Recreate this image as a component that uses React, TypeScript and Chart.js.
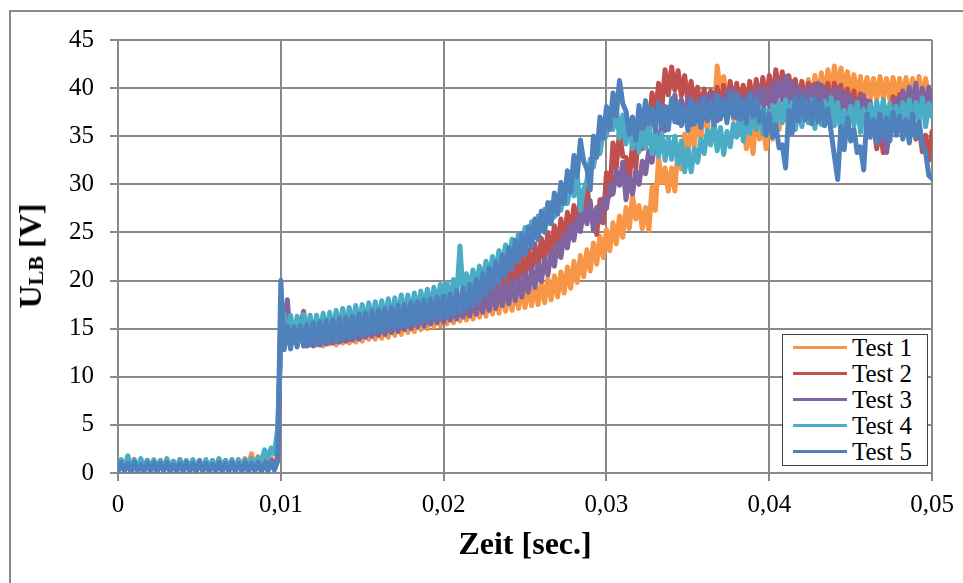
import React, { useEffect, useRef } from 'react';
import { Chart, registerables } from 'chart.js';

Chart.register(...registerables);

// ---- data (sampled every 0.0002 s, 0 .. 0.05 s) ----
const timeStep = 0.0002;
const timeMin = 0;
const timeMax = 0.05;
const timeTickStep = 0.01;
const voltMin = 0;
const voltMax = 45;
const voltTickStep = 5;

const seriesNames = ['Test 1', 'Test 2', 'Test 3', 'Test 4', 'Test 5'];
const seriesColors = ['#F79646', '#C0504D', '#8064A2', '#4BACC6', '#4F81BD'];

const test1 = [
  0.3,1.2,0.2,1.1,0.4,1.3,0.1,1.0,0.3,1.2,
  0.2,1.1,0.5,1.3,0.2,1.2,0.3,1.0,0.2,1.3,
  0.4,1.1,0.1,1.2,0.3,1.3,0.2,1.0,0.4,1.2,
  0.3,1.3,0.2,1.1,0.5,1.4,0.3,1.2,0.4,1.5,
  0.6,2.0,0.5,1.7,0.4,1.9,0.6,1.6,0.8,1.8,
  15.9,13.5,15.4,13.3,15.3,13.4,15.4,13.2,15.3,13.4,
  15.3,13.3,15.4,13.2,15.5,13.4,15.4,13.3,15.6,13.5,
  15.7,13.5,15.8,13.6,15.9,13.7,16.0,13.9,16.1,13.9,
  16.2,14.0,16.3,14.1,16.5,14.3,16.6,14.4,16.8,14.6,
  16.9,14.7,17.1,14.9,17.2,15.0,17.4,15.2,17.5,15.3,
  17.7,15.5,17.8,15.6,18.0,15.8,18.1,15.9,18.2,16.0,
  18.4,16.2,18.5,16.3,18.7,16.5,18.8,16.6,19.0,16.8,
  19.1,16.9,19.3,17.1,19.4,17.2,19.6,17.4,19.7,17.5,
  19.9,17.7,20.2,18.0,20.5,18.3,20.9,18.7,21.4,19.2,
  22.0,19.8,22.6,20.4,23.2,21.0,23.9,21.7,24.6,22.4,
  25.3,23.1,26.0,23.8,26.7,24.5,27.6,25.4,28.8,26.4,
  27.8,25.4,27.6,25.2,29.7,27.3,32.8,30.2,31.7,29.3,
  31.7,29.3,34.0,31.6,35.2,32.8,36.4,34.0,37.2,34.8,
  38.2,35.8,39.2,36.8,42.3,39.7,41.2,38.8,39.2,36.8,
  37.8,35.2,36.3,33.7,35.8,33.2,37.3,34.7,36.3,33.7,
  37.3,34.7,38.3,35.7,39.3,36.7,39.9,37.3,40.3,37.7,
  40.6,38.0,40.9,38.3,41.3,38.7,41.6,39.0,41.9,39.3,
  42.3,39.7,42.1,39.7,41.7,39.3,41.4,39.0,41.2,38.8,
  41.1,38.9,41.0,38.8,41.2,38.9,41.0,38.8,41.1,38.9,
  41.0,38.9,41.1,38.8,41.0,38.9,41.2,38.8,41.0,38.9,
  40.0,
];

const test2 = [
  0.4,1.3,0.2,1.2,0.3,1.4,0.2,1.1,0.4,1.3,
  0.3,1.2,0.2,1.3,0.4,1.1,0.3,1.2,0.2,1.4,
  0.3,1.1,0.4,1.3,0.2,1.2,0.3,1.1,0.2,1.3,
  0.4,1.2,0.3,1.3,0.2,1.1,0.4,1.2,0.3,1.4,
  0.2,1.3,0.4,1.2,0.3,1.4,0.5,1.3,0.4,1.5,
  15.7,13.4,15.5,13.3,15.5,13.3,15.5,13.3,15.6,13.4,
  15.6,13.4,15.7,13.5,15.8,13.6,15.9,13.7,16.0,13.8,
  16.1,13.9,16.3,14.1,16.4,14.2,16.6,14.4,16.7,14.5,
  16.9,14.7,17.0,14.8,17.2,15.0,17.3,15.1,17.5,15.3,
  17.6,15.4,17.8,15.6,17.9,15.7,18.1,15.9,18.2,16.0,
  18.4,16.2,18.5,16.3,18.7,16.5,19.0,16.6,19.1,16.9,
  19.5,17.1,20.0,17.4,20.4,17.8,20.7,18.3,21.1,18.7,
  21.6,19.2,22.1,19.7,22.6,20.2,23.2,20.8,23.8,21.4,
  24.4,22.0,25.0,22.6,25.7,23.3,26.4,24.0,27.1,24.7,
  27.8,25.4,28.7,26.3,29.7,27.3,27.2,24.8,28.4,26.0,
  31.2,28.8,34.3,31.7,35.5,32.9,32.8,30.2,34.3,31.7,
  36.3,33.7,38.1,35.5,39.5,36.9,40.5,37.9,41.9,39.3,
  42.2,39.8,41.8,39.2,41.3,38.7,40.7,38.1,40.1,37.5,
  39.9,37.3,39.7,37.1,40.1,37.5,40.3,37.7,40.7,38.1,
  40.5,37.9,40.3,37.7,40.7,38.1,40.9,38.3,41.1,38.5,
  41.3,38.7,41.9,39.3,41.7,39.1,41.3,38.7,40.9,38.3,
  40.7,38.1,40.5,37.9,40.4,37.8,40.3,37.7,40.5,37.9,
  40.5,37.9,40.3,37.7,39.9,37.3,39.7,37.1,39.4,36.8,
  38.7,36.1,36.3,33.7,35.9,33.3,37.9,35.3,39.1,36.5,
  39.3,36.7,38.4,35.8,37.3,34.7,36.0,33.4,35.1,32.5,
  35.5,
];

const test3 = [
  0.3,1.2,0.4,1.3,0.2,1.1,0.3,1.2,0.4,1.3,
  0.2,1.2,0.3,1.1,0.4,1.3,0.2,1.2,0.3,1.1,
  0.4,1.3,0.2,1.2,0.3,1.3,0.4,1.1,0.2,1.2,
  0.3,1.1,0.4,1.3,0.2,1.2,0.3,1.4,0.2,1.2,
  0.4,1.3,0.3,1.2,0.4,1.4,0.3,1.3,0.5,1.4,
  14.6,15.4,18.0,13.3,15.4,13.4,15.2,16.8,13.2,15.3,
  13.2,15.4,13.3,15.5,13.4,15.6,13.5,15.7,13.6,15.8,
  13.7,15.9,13.8,16.0,13.9,16.1,14.1,16.3,14.2,16.4,
  14.3,16.5,14.4,16.6,14.6,16.8,14.7,16.9,14.9,17.1,
  15.0,17.2,15.2,17.4,15.3,17.5,15.5,17.7,15.6,17.8,
  15.7,17.9,15.9,18.1,16.0,18.2,16.2,18.4,16.3,18.5,
  16.5,18.7,16.7,18.9,16.9,19.1,17.1,19.3,17.4,19.6,
  17.6,20.0,17.9,20.3,18.3,20.7,18.8,21.2,19.3,21.7,
  19.9,22.3,20.6,23.0,21.5,23.9,22.4,24.8,23.4,25.8,
  24.2,26.6,25.1,27.5,25.9,28.3,25.2,27.6,26.1,28.5,
  27.5,29.9,29.0,31.4,29.9,32.3,28.4,30.8,29.0,31.4,
  30.0,32.4,31.1,33.5,32.3,34.7,34.0,36.4,35.6,38.0,
  36.9,39.3,36.4,38.8,36.7,39.1,36.2,38.6,36.6,39.0,
  36.9,39.3,37.1,39.5,36.6,39.0,37.3,39.7,37.5,39.9,
  36.9,39.3,36.6,39.0,37.3,39.7,37.8,40.2,37.5,39.9,
  38.1,40.5,38.5,40.9,38.8,41.2,38.3,40.7,37.7,40.1,
  37.5,39.9,37.9,40.3,38.1,40.5,37.7,40.1,37.3,39.7,
  37.6,40.0,37.2,39.6,36.8,39.2,36.4,38.8,36.8,39.2,
  36.2,38.6,35.5,37.9,34.4,36.8,33.3,35.7,36.5,38.9,
  37.3,39.7,37.7,40.1,38.1,40.5,37.6,40.0,37.7,40.1,
  38.6,
];

const test4 = [
  0.5,1.4,0.4,1.8,0.6,1.3,0.4,1.5,0.5,1.2,
  0.6,1.4,0.5,1.3,0.4,1.5,0.6,1.2,0.5,1.4,
  0.6,1.3,0.4,1.4,0.5,1.2,0.6,1.4,0.5,1.3,
  0.4,1.5,0.6,1.3,0.5,1.4,0.6,1.3,0.5,1.4,
  0.7,1.5,0.8,1.6,1.2,2.4,1.5,2.6,2.0,4.5,
  13.8,16.6,13.6,16.4,13.9,16.3,13.9,16.5,14.1,16.4,
  14.2,16.4,14.4,16.6,14.5,16.7,14.7,16.9,14.9,17.1,
  15.0,17.2,15.2,17.4,15.3,17.5,15.5,17.7,15.6,17.8,
  15.7,17.9,15.9,18.1,16.0,18.2,16.2,18.5,16.3,18.5,
  16.5,18.7,16.7,18.9,16.9,19.1,17.1,19.3,17.4,19.6,
  17.6,19.8,17.9,20.1,18.3,23.6,18.5,20.7,18.9,21.1,
  19.3,21.5,19.8,22.0,20.3,22.5,20.9,23.1,21.5,23.7,
  22.1,24.3,22.7,24.9,23.3,25.5,23.9,26.1,24.5,26.7,
  25.2,27.4,25.9,28.1,26.6,28.8,27.3,29.5,28.0,30.2,
  28.8,31.0,27.3,29.5,30.4,32.6,31.8,34.0,33.2,35.4,
  35.0,37.4,35.7,38.1,34.8,37.2,34.2,36.6,33.7,36.1,
  33.4,35.8,33.8,36.2,33.2,35.6,32.9,35.3,32.5,34.9,
  32.6,35.0,32.1,34.5,31.3,33.7,31.3,33.7,32.3,34.7,
  33.2,35.6,34.1,36.5,33.5,35.9,33.1,35.5,33.9,36.3,
  34.9,37.3,34.5,36.9,35.3,37.7,35.7,38.1,35.3,37.7,
  35.8,38.2,36.1,38.5,36.4,38.8,36.1,38.5,35.7,38.1,
  36.0,38.4,36.4,38.8,35.8,38.2,36.2,38.6,36.6,39.0,
  36.1,38.5,35.3,37.7,35.7,38.1,36.1,38.5,35.4,37.8,
  35.9,38.3,36.2,38.6,36.4,38.8,36.0,38.4,35.7,38.1,
  36.1,38.5,36.4,38.8,36.1,38.5,36.6,39.0,36.0,38.4,
  37.0,
];

const test5 = [
  0.1,1.1,0.2,1.0,0.1,1.1,0.2,0.9,0.1,1.0,
  0.2,1.1,0.1,1.0,0.2,1.1,0.1,0.9,0.2,1.0,
  0.1,1.1,0.2,1.0,0.1,1.1,0.2,1.0,0.1,0.9,
  0.2,1.1,0.1,1.0,0.2,1.1,0.1,1.0,0.2,1.1,
  0.1,1.0,0.2,1.1,0.1,1.0,0.2,1.1,0.3,1.2,
  20.0,12.8,15.3,12.9,15.2,13.1,15.3,13.2,15.4,13.3,
  15.6,13.4,15.7,13.5,15.8,13.6,15.9,13.7,16.1,13.9,
  16.2,14.0,16.3,14.1,16.5,14.3,16.6,14.4,16.8,14.6,
  16.9,14.7,17.1,14.9,17.2,15.0,17.4,15.2,17.5,15.3,
  17.7,15.5,17.8,15.6,18.0,15.8,18.1,15.9,18.3,16.1,
  18.4,16.2,18.6,16.4,18.9,16.7,19.2,17.0,19.6,17.4,
  20.1,17.9,20.7,18.5,21.3,19.1,21.9,19.7,22.6,20.4,
  23.4,21.2,24.2,22.0,24.9,22.7,25.6,23.4,26.4,24.2,
  27.2,25.0,28.1,25.9,29.1,26.9,30.2,28.0,31.4,29.2,
  33.0,30.8,34.6,32.4,31.6,29.4,35.0,32.8,37.0,34.8,
  38.1,35.7,39.5,37.1,40.8,38.4,37.6,35.2,37.0,34.6,
  38.2,35.8,38.7,36.3,37.9,35.5,38.5,36.1,38.1,35.7,
  38.9,36.5,38.5,36.1,38.0,35.6,38.7,36.3,38.3,35.9,
  39.0,36.6,38.6,36.2,39.2,36.8,38.8,36.4,39.4,37.0,
  39.2,36.8,38.7,36.3,39.4,37.0,38.9,36.5,37.5,35.1,
  37.3,34.9,36.2,33.8,34.1,31.7,37.7,35.3,39.0,36.6,
  39.1,36.7,38.7,36.3,38.9,36.5,38.5,36.1,37.8,35.4,
  32.9,30.5,36.0,33.6,36.9,34.5,35.7,33.3,33.9,31.5,
  37.3,34.9,36.7,34.3,37.3,34.9,36.9,34.5,37.5,35.1,
  37.1,34.7,36.7,34.3,37.3,34.9,36.5,34.1,33.3,30.9,
  30.6,
];

const seriesValues = [test1, test2, test3, test4, test5];

const xTitle = 'Zeit [sec.]';
const yTitleMain = 'U';
const yTitleSub = 'LB';
const yTitleUnit = ' [V]';

const FONT = "'Liberation Serif', 'Times New Roman', serif";
const GRID = '#898989';

function formatTime(v: number): string {
  if (Math.abs(v) < 1e-9) return '0';
  return v.toFixed(2).replace('.', ',');
}

export default function App() {
  const canvasRef = useRef<HTMLCanvasElement | null>(null);

  useEffect(() => {
    const canvas = canvasRef.current;
    if (!canvas) return;
    const datasets = seriesValues.map((vals, s) => ({
      label: seriesNames[s],
      data: vals.map((v, i) => ({ x: i * timeStep, y: v })),
      borderColor: seriesColors[s],
      backgroundColor: seriesColors[s],
      borderWidth: 5,
      borderJoinStyle: 'round',
      borderCapStyle: 'round',
      pointRadius: 0,
      tension: 0,
      fill: false,
      order: seriesValues.length - 1 - s,
    }));
    const chart = new Chart(canvas, {
      type: 'line',
      data: { datasets },
      options: {
        responsive: false,
        animation: false,
        devicePixelRatio: 1,
        layout: { padding: { top: 40, right: 29, bottom: 0, left: 0 } },
        plugins: { legend: { display: false }, tooltip: { enabled: false } },
        scales: {
          x: {
            type: 'linear',
            min: timeMin,
            max: timeMax,
            ticks: {
              stepSize: timeTickStep,
              callback: (v: any) => formatTime(Number(v)),
              font: { family: FONT, size: 25 },
              color: '#000',
              padding: 9,
              maxRotation: 0,
              autoSkip: false,
            },
            grid: { color: GRID, lineWidth: 2, tickLength: 8 },
            border: { color: GRID, width: 2 },
            title: {
              display: true,
              text: xTitle,
              font: { family: FONT, size: 32, weight: 'bold' },
              color: '#000',
              padding: { top: 0, bottom: 18 },
            },
            afterFit: (s: any) => { s.height = 110; },
          },
          y: {
            type: 'linear',
            min: voltMin,
            max: voltMax,
            ticks: {
              stepSize: voltTickStep,
              font: { family: FONT, size: 25 },
              color: '#000',
              padding: 16,
            },
            grid: { color: GRID, lineWidth: 2, tickLength: 8 },
            border: { color: GRID, width: 2 },
            afterFit: (s: any) => { s.width = 118; },
          },
        },
      } as any,
    });
    return () => chart.destroy();
  }, []);

  return (
    <div style={{ position: 'fixed', left: 0, top: 0, width: 963, height: 583, overflow: 'hidden', background: '#fff' }}>
      <div style={{ position: 'absolute', left: 9, top: 10, width: 1100, height: 700, border: '2px solid #8a8a8a', boxSizing: 'border-box' }} />
      <canvas ref={canvasRef} width={963} height={583} style={{ position: 'absolute', left: 0, top: 0, width: 963, height: 583 }} />
      <div
        style={{
          position: 'absolute', left: 33, top: 256,
          transform: 'translate(-50%, -50%) rotate(-90deg)',
          fontFamily: FONT, fontWeight: 'bold', fontSize: 32, lineHeight: '32px',
          whiteSpace: 'nowrap', color: '#000',
        }}
      >
        {yTitleMain}
        <span style={{ fontSize: 22, verticalAlign: '-2px' }}>{yTitleSub}</span>
        {yTitleUnit}
      </div>
      <div
        style={{
          position: 'absolute', left: 782, top: 334, width: 146, height: 132,
          border: '1px solid #404040', background: '#fff', boxSizing: 'border-box',
          fontFamily: FONT, fontSize: 25, color: '#000',
        }}
      >
        {seriesNames.map((n, i) => (
          <div key={n} style={{ display: 'flex', alignItems: 'center', height: 25.9, lineHeight: '26px' }}>
            <span style={{ display: 'inline-block', marginLeft: 10, width: 54, height: 3, background: seriesColors[i] }} />
            <span style={{ marginLeft: 5 }}>{n}</span>
          </div>
        ))}
      </div>
    </div>
  );
}
